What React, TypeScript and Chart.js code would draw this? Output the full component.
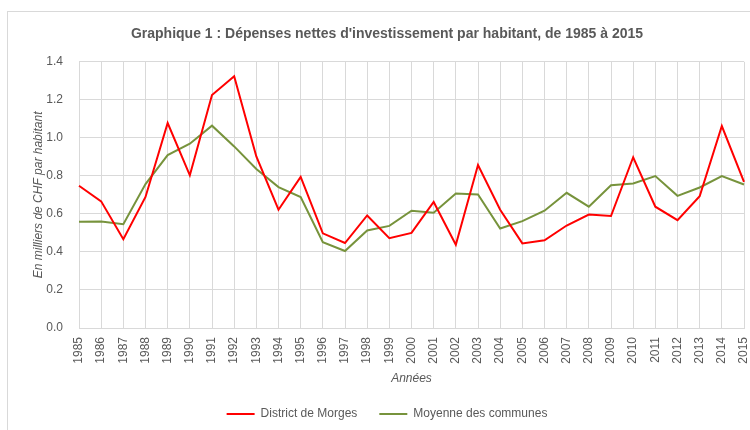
import { useEffect, useRef } from 'react';
import { Chart, registerables } from 'chart.js';

Chart.register(...registerables);

const years = ['1985','1986','1987','1988','1989','1990','1991','1992','1993','1994','1995','1996','1997','1998','1999','2000','2001','2002','2003','2004','2005','2006','2007','2008','2009','2010','2011','2012','2013','2014','2015'];
const districtMorges = [0.748,0.666,0.467,0.689,1.078,0.803,1.225,1.324,0.902,0.622,0.795,0.498,0.447,0.592,0.472,0.500,0.663,0.438,0.857,0.622,0.445,0.461,0.539,0.597,0.589,0.898,0.638,0.567,0.693,1.062,0.769];
const moyenneCommunes = [0.559,0.560,0.546,0.757,0.909,0.969,1.064,0.955,0.836,0.741,0.689,0.451,0.405,0.513,0.537,0.617,0.606,0.707,0.702,0.523,0.562,0.617,0.711,0.638,0.751,0.760,0.799,0.695,0.739,0.799,0.755];
const seriesNames = ['District de Morges', 'Moyenne des communes'];
const chartTitle = "Graphique 1 : Dépenses nettes d'investissement par habitant, de 1985 à 2015";
const yTitle = 'En milliers de CHF par habitant';
const xTitle = 'Années';

const FONT = "'Liberation Sans Narrow', 'Arial Narrow', 'Liberation Sans', Arial, sans-serif";
const TEXT = '#595959';
const GRID = '#d9d9d9';

const framePlugin = {
  id: 'frame',
  beforeDraw(chart: any) {
    const ctx = chart.ctx;
    ctx.save();
    ctx.fillStyle = '#ffffff';
    ctx.fillRect(0, 0, chart.width, chart.height);
    ctx.strokeStyle = '#d9d9d9';
    ctx.lineWidth = 1;
    ctx.strokeRect(7.5, 11.5, chart.width + 10, chart.height + 10);
    ctx.restore();
  },
};

export default function App() {
  const ref = useRef<HTMLCanvasElement | null>(null);
  useEffect(() => {
    if (!ref.current) return;
    const chart = new Chart(ref.current, {
      type: 'line',
      data: {
        labels: years,
        datasets: [
          {
            label: seriesNames[0],
            data: districtMorges,
            borderColor: '#ff0000',
            backgroundColor: '#ff0000',
            borderWidth: 2,
            pointRadius: 0,
            tension: 0,
          },
          {
            label: seriesNames[1],
            data: moyenneCommunes,
            borderColor: '#77933c',
            backgroundColor: '#77933c',
            borderWidth: 2,
            pointRadius: 0,
            tension: 0,
          },
        ],
      },
      options: {
        animation: false,
        responsive: false,
        maintainAspectRatio: false,
        layout: { padding: { left: 30, right: 6, top: 0, bottom: 0 } },
        plugins: {
          title: {
            display: true,
            text: chartTitle,
            color: TEXT,
            font: { family: FONT, size: 14, weight: 'bold' },
            padding: { top: 26, bottom: 19 },
          },
          legend: {
            position: 'bottom',
            labels: {
              usePointStyle: true,
              pointStyle: 'line',
              pointStyleWidth: 28,
              boxHeight: 12,
              color: TEXT,
              font: { family: FONT, size: 12 },
              padding: 22,
            },
          },
          tooltip: { enabled: false },
        },
        scales: {
          x: {
            type: 'category',
            offset: false,
            grid: { color: GRID, drawTicks: false },
            border: { color: GRID },
            ticks: {
              autoSkip: false,
              maxRotation: 90,
              minRotation: 90,
              color: TEXT,
              font: { family: FONT, size: 12 },
              padding: 9,
            },
            title: {
              display: true,
              text: xTitle,
              color: TEXT,
              font: { family: FONT, size: 12, style: 'italic' },
              padding: { top: 0, bottom: 0 },
            },
            afterFit: (scale: any) => {
              scale.height = 58;
              scale.paddingRight = 0;
              scale.paddingLeft = 0;
            },
          },
          y: {
            min: 0,
            max: 1.4,
            grid: { color: GRID, drawTicks: false },
            border: { color: GRID },
            ticks: {
              stepSize: 0.2,
              color: TEXT,
              font: { family: FONT, size: 12 },
              padding: 16,
              callback: (v: any) => Number(v).toFixed(1),
            },
            title: {
              display: true,
              text: yTitle,
              color: TEXT,
              font: { family: FONT, size: 12, style: 'italic' },
              padding: { top: 1, bottom: 0 },
            },
            afterFit: (scale: any) => { scale.width = 49; },
          },
        },
      },
      plugins: [framePlugin],
    });
    return () => chart.destroy();
  }, []);
  return (
    <div style={{ position: 'fixed', left: 0, top: 0, width: 750, height: 430, background: '#fff' }}>
      <canvas ref={ref} width={750} height={430} style={{ width: 750, height: 430, display: 'block' }} />
    </div>
  );
}
